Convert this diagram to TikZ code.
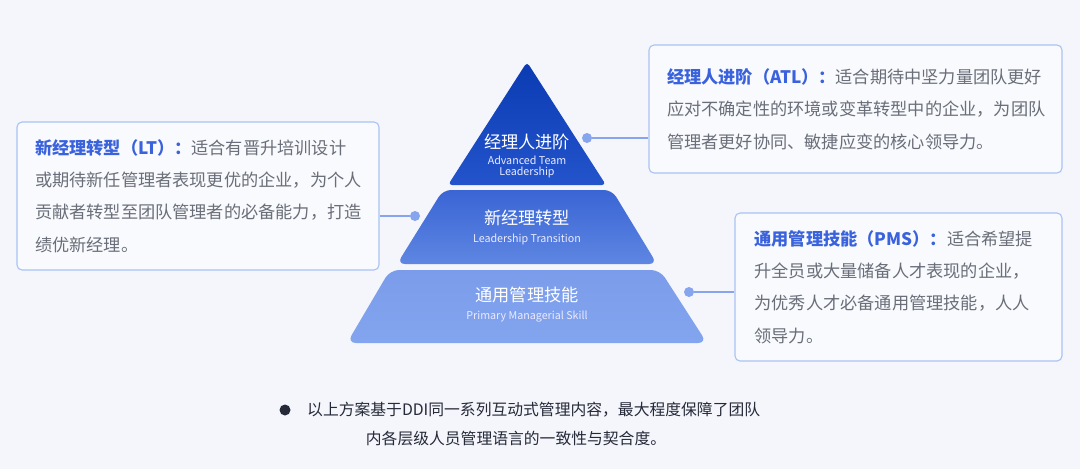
\documentclass[tikz,border=0pt]{standalone}
\usepackage{fontspec}
\setmainfont{Noto Sans CJK SC}
\usetikzlibrary{positioning}
\definecolor{pagebg}{HTML}{F4F6FC}
\definecolor{boxbg}{HTML}{F8FAFE}
\definecolor{boxline}{HTML}{AAC2F3}
\definecolor{titleblue}{HTML}{3A62DC}
\definecolor{bodygrey}{HTML}{6A6E78}
\definecolor{linkblue}{HTML}{86A5EE}
\definecolor{notedark}{HTML}{262A38}
\definecolor{pmstop}{HTML}{7B9CEA}
\definecolor{pmsbot}{HTML}{83A4EE}
\definecolor{lttop}{HTML}{3A65D4}
\definecolor{ltbot}{HTML}{5E86E2}
\definecolor{atltop}{HTML}{0A3BB2}
\definecolor{atlbot}{HTML}{2354CC}
\newcommand{\ttl}[1]{{\bfseries\color{titleblue}#1}}
\begin{document}
\begin{tikzpicture}[x=1pt,y=-1pt,
  infobox/.style={draw=boxline, line width=1.1pt, fill=boxbg, rounded corners=5pt,
    inner xsep=18pt, align=left, text=bodygrey, font=\fontsize{17.2}{32.3}\selectfont},
  lvl/.style={text=white, font=\fontsize{17.2}{20}\selectfont, inner sep=0pt},
  sublvl/.style={text=white!92!blue, font=\fontsize{10.7}{11}\selectfont, align=center, inner sep=0pt},
  dot/.style={circle, fill=linkblue, minimum size=10pt, inner sep=0pt},
  link/.style={draw=linkblue, line width=1.3pt},
  note/.style={text=notedark, font=\fontsize{15.8}{20}\selectfont, inner sep=0pt}]
\fill[pagebg] (0,0) rectangle (1080,469);

% pyramid
\shade[top color=pmstop, bottom color=pmsbot, rounded corners=9pt]
  (390,270) -- (660,270) -- (707,343) -- (347,343) -- cycle;
\shade[top color=lttop, bottom color=ltbot, rounded corners=8pt]
  (443,190) -- (612,190) -- (657,264) -- (397,264) -- cycle;
\shade[top color=atltop, bottom color=atlbot, rounded corners=4pt]
  (527,62) -- (606,185) -- (448,185) -- cycle;

\node[lvl] (atl) at (527,142) {经理人进阶};
\node[sublvl, below=6pt of atl] (atlen) {Advanced Team\\Leadership};
\node[lvl] (lt) at (527,218) {新经理转型};
\node[sublvl, below=8pt of lt] (lten) {Leadership Transition};
\node[lvl] (pms) at (527,295) {通用管理技能};
\node[sublvl, below=8pt of pms] (pmsen) {Primary Managerial Skill};

% boxes
\node[infobox, minimum width=413pt, minimum height=128pt, text width=377pt] (atlbox) at (855.5,109)
  {\ttl{经理人进阶（ATL）：}适合期待中坚力量团队更好\\
   应对不确定性的环境或变革转型中的企业，为团队\\
   管理者更好协同、敏捷应变的核心领导力。};
\node[infobox, minimum width=362pt, minimum height=148pt, text width=326pt] (ltbox) at (198,196)
  {\ttl{新经理转型（LT）：}适合有晋升培训设计\\
   或期待新任管理者表现更优的企业，为个人\\
   贡献者转型至团队管理者的必备能力，打造\\
   绩优新经理。};
\node[infobox, minimum width=327pt, minimum height=148pt, text width=288pt, inner xsep=19.5pt] (pmsbox) at (898.5,287)
  {\ttl{通用管理技能（PMS）：}适合希望提\\
   升全员或大量储备人才表现的企业，\\
   为优秀人才必备通用管理技能，人人\\
   领导力。};

% connectors
\node[dot] (d1) at (587,138) {};
\node[dot] (d2) at (415,216) {};
\node[dot] (d3) at (689,292) {};
\draw[link] (d1) -- (d1 -| atlbox.west);
\draw[link] (d2) -- (d2 -| ltbox.east);
\draw[link] (d3) -- (d3 -| pmsbox.west);

% note
\node[circle, fill=notedark, minimum size=11pt, inner sep=0pt] (bul) at (285,410) {};
\node[note, anchor=west] (n1) at (307,410) {以上方案基于DDI同一系列互动式管理内容，最大程度保障了团队};
\node[note] (n2) at (516,438) {内各层级人员管理语言的一致性与契合度。};
\end{tikzpicture}
\end{document}
